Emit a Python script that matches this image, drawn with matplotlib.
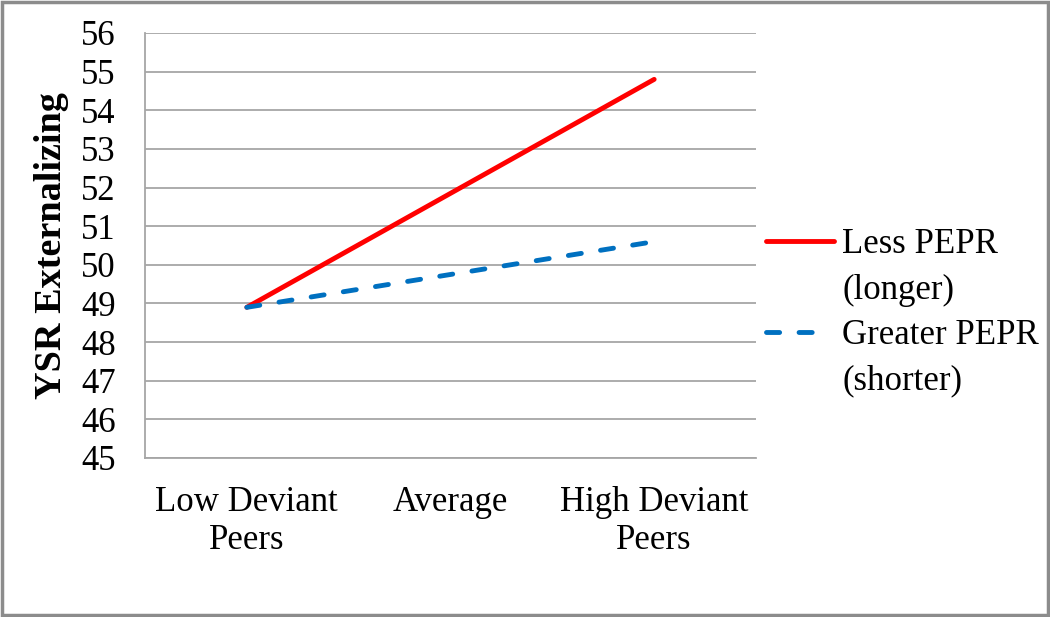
import matplotlib
matplotlib.use("Agg")
import matplotlib.pyplot as plt
from matplotlib.patches import Rectangle
from matplotlib.lines import Line2D

categories = ["Low Deviant\nPeers", "Average", "High Deviant\nPeers"]
less_pepr = [48.9, 51.85, 54.8]
greater_pepr = [48.9, 49.75, 50.6]
series_names = ["Less PEPR", "Greater PEPR"]
series_notes = ["(longer)", "(shorter)"]
y_ticks = list(range(45, 57))

plt.rcParams['font.family'] = ['Liberation Serif', 'DejaVu Serif']

RED = '#FF0000'
BLUE = '#0070C0'
LW = 3.5

fig = plt.figure(figsize=(10.5, 6.17), dpi=100)
fig.patch.set_facecolor('white')
ax = fig.add_axes([145/1050, 1-458/617, (756-145)/1050, (458-33)/617])

x = list(range(len(categories)))
l1, = ax.plot(x, less_pepr, color=RED, lw=LW, solid_capstyle='round')
l2, = ax.plot(x, greater_pepr, color=BLUE, lw=LW, linestyle=(0, (2.7, 4.0)),
              dash_capstyle='round')

ax.set_xlim(-0.5, 2.5)
ax.set_ylim(45, 56)
ax.set_yticks(y_ticks)
ax.set_xticks(x)
ax.set_xticklabels(categories, linespacing=1.2)
ax.yaxis.grid(True, color='#A6A6A6', lw=1.3)
ax.set_axisbelow(True)
for s in ['top', 'right']:
    ax.spines[s].set_visible(False)
for s in ['left', 'bottom']:
    ax.spines[s].set_color('#A6A6A6')
    ax.spines[s].set_linewidth(1.3)
ax.tick_params(axis='y', length=0, pad=21, labelsize=25)
ax.tick_params(axis='x', length=0, pad=20, labelsize=25)
ax.set_ylabel("YSR Externalizing", fontsize=27.5, fontweight='bold')
ax.yaxis.set_label_coords(-0.124, 0.5)

blank = Line2D([], [], color='none')
blue_proxy = Line2D([], [], color=BLUE, lw=LW, linestyle=(0, (2.7, 4.0, 2.7, 30)),
                    dash_capstyle='round')
handles = [l1, blank, blue_proxy, blank]
labels = [series_names[0], series_notes[0], series_names[1], series_notes[1]]
fig.legend(handles, labels, loc='upper left', bbox_to_anchor=(766/1050, 1-228/617),
           frameon=False, fontsize=25, handlelength=1.95, handletextpad=0.25,
           labelspacing=0.36, borderaxespad=0, borderpad=0)

fig.add_artist(Rectangle((0.0015, 0.0025), 0.997, 0.995, transform=fig.transFigure,
                         fill=False, edgecolor='#8C8C8C', lw=2.5))

fig.savefig("out.png", dpi=100, facecolor='white')
